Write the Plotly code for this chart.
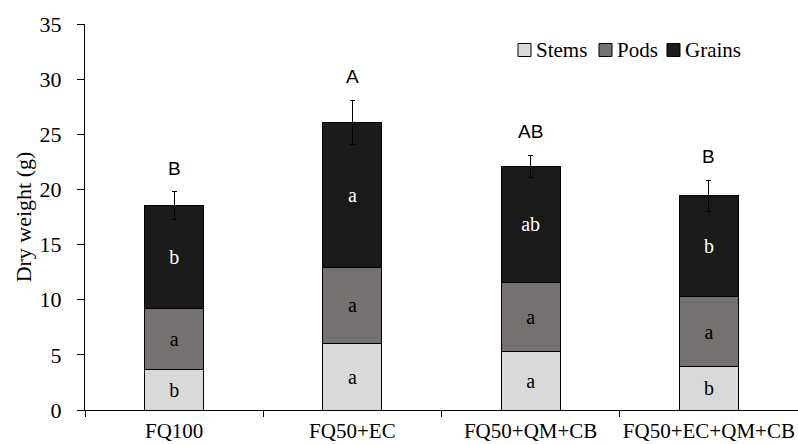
import plotly.graph_objects as go

categories = ["FQ100", "FQ50+EC", "FQ50+QM+CB", "FQ50+EC+QM+CB"]
stems = [3.65, 6.05, 5.32, 3.9]
pods = [5.51, 6.91, 6.28, 6.4]
grains = [9.39, 13.12, 10.49, 9.13]
grains_err = [1.25, 2.0, 1.0, 1.4]
stems_letters = ["b", "a", "a", "b"]
pods_letters = ["a", "a", "a", "a"]
grains_letters = ["b", "a", "ab", "b"]
total_letters = ["B", "A", "AB", "B"]
series_names = ["Stems", "Pods", "Grains"]
series_colors = ["#d9d9d9", "#767171", "#1a1a1a"]

SERIF = "Liberation Serif, Times New Roman, serif"
SANS = "Liberation Sans, Arial, sans-serif"

W, H = 798, 444
ML, MR, MT, MB = 85, 0, 24, 34
PW, PH = W - ML - MR, H - MT - MB


def px(x):
    return (x - ML) / PW


def py(y):
    return (H - MB - y) / PH


fig = go.Figure()
common = dict(width=0.33, textposition="inside", insidetextanchor="middle",
              textangle=0, marker_line=dict(color="#000000", width=1), showlegend=False)
fig.add_trace(go.Bar(x=categories, y=stems, name=series_names[0], marker_color=series_colors[0],
                     text=stems_letters, textfont=dict(family=SERIF, size=20, color="#000"),
                     **common))
fig.add_trace(go.Bar(x=categories, y=pods, name=series_names[1], marker_color=series_colors[1],
                     text=pods_letters, textfont=dict(family=SERIF, size=20, color="#000"),
                     **common))
fig.add_trace(go.Bar(x=categories, y=grains, name=series_names[2], marker_color=series_colors[2],
                     text=grains_letters, textfont=dict(family=SERIF, size=20, color="#fff"),
                     error_y=dict(type="data", array=grains_err, color="#000",
                                  thickness=1.2, width=2.5),
                     **common))

totals = [s + p + g for s, p, g in zip(stems, pods, grains)]
for c, t, e, lab in zip(categories, totals, grains_err, total_letters):
    fig.add_annotation(x=c, y=t + e, text=lab, showarrow=False, yanchor="bottom",
                       yshift=11, font=dict(family=SANS, size=19, color="#000"))

# manual compact legend
leg_sq_x = [518, 599, 667]
for name, col, x0 in zip(series_names, series_colors, leg_sq_x):
    fig.add_shape(type="rect", xref="paper", yref="paper",
                  x0=px(x0), x1=px(x0 + 13), y0=py(56.5), y1=py(43.5),
                  fillcolor=col, line=dict(color="#000", width=1))
    fig.add_annotation(xref="paper", yref="paper", x=px(x0 + 16), y=py(50),
                       xanchor="left", yanchor="middle", showarrow=False, text=name,
                       font=dict(family=SERIF, size=21, color="#000"))

fig.update_layout(
    width=W, height=H,
    margin=dict(l=ML, r=MR, t=MT, b=MB),
    barmode="stack",
    plot_bgcolor="#fff", paper_bgcolor="#fff",
    font=dict(family=SERIF, size=21, color="#000"),
    showlegend=False,
)
fig.update_xaxes(type="category", range=[-0.5, 3.5], showline=True, linecolor="#000",
                 linewidth=1.3, ticks="outside", tickson="boundaries", ticklen=6,
                 tickcolor="#000", showgrid=False, automargin=False, tickangle=0,
                 ticklabelstandoff=2,
                 tickfont=dict(family=SERIF, size=21, color="#000"))
fig.update_yaxes(range=[0, 35], dtick=5, showline=True, linecolor="#000", linewidth=1.3,
                 ticks="outside", ticklen=7, tickcolor="#000", showgrid=False,
                 zeroline=False, automargin=False, ticklabelstandoff=11,
                 tickfont=dict(family=SERIF, size=22, color="#000"),
                 title=dict(text="Dry weight (g)", font=dict(family=SERIF, size=22),
                            standoff=1))

fig.write_html("out.html", config={"displayModeBar": False},
               post_script="document.body.style.margin='0';document.body.style.overflow='hidden';")
